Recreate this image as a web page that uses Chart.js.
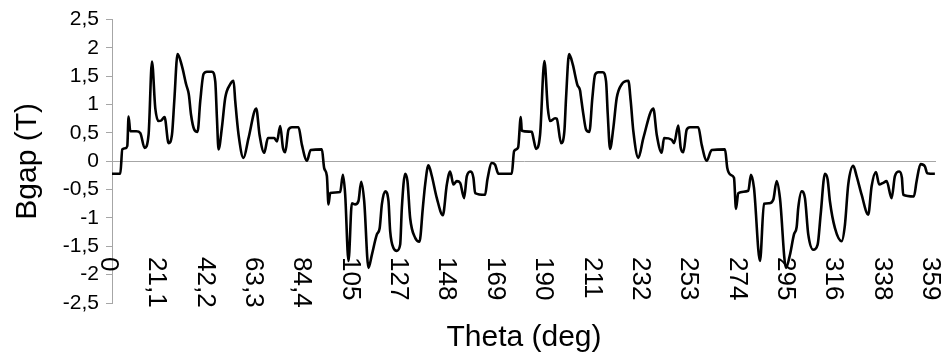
<!DOCTYPE html>
<html>
<head>
<meta charset="utf-8">
<script src="https://cdn.jsdelivr.net/npm/chart.js@4.4.1/dist/chart.umd.min.js"></script>
<style>
  html, body { margin: 0; padding: 0; background: #fff; }
  #wrap { width: 942px; height: 360px; }
</style>
</head>
<body>
<div id="wrap"><canvas id="myChart" width="942" height="360"></canvas></div>
<script>
// air gap flux density around the rotor
const thetaDeg = [
  0, 3.62, 4.49, 5.8, 6.67, 7.23, 7.98, 10.59, 12.33, 14.21, 15.95, 17.43, 18.87, 20.31, 21.49, 22.92,
  24.67, 26.15, 27.15, 28.59, 30.51, 32.38, 33.25, 33.6, 34.43, 35.87, 37.31, 38.48, 39.92, 41.4, 43.58,
  45.02, 45.76, 46.46, 47.94, 49.38, 51.56, 53.0, 53.74, 55.18, 57.35, 59.53, 62.89, 64.33, 66.38, 67.99,
  70.73, 71.91, 73.35, 74.53, 75.53, 76.97, 78.45, 81.33, 82.81, 84.99, 86.64, 91.52, 92.52, 93.7, 94.4,
  95.14, 99.5, 100.68, 101.68, 103.12, 104.6, 106.03, 107.47, 108.65, 109.96, 111.83, 113.31, 115.49,
  116.71, 117.67, 119.11, 120.55, 121.29, 122.73, 124.21, 125.65, 126.39, 127.83, 128.83, 130.0, 132.18,
  134.06, 135.54, 136.54, 137.98, 139.46, 141.64, 144.26, 146.0, 147.44, 148.88, 150.36, 151.8, 153.54,
  154.72, 156.46, 157.59, 158.34, 162.69, 163.7, 165.61, 167.05, 168.49, 174.33,
  175.33, 177.07, 178.25, 178.69, 183.05, 183.74, 184.92, 186.66, 188.54, 190.02, 191.02, 193.2, 193.94,
  195.81, 197.25, 197.99, 199.3, 200.91, 202.92, 204.1, 204.44, 205.53, 206.71, 208.15, 209.46, 210.64,
  212.07, 213.99, 215.43, 216.17, 217.17, 218.61, 220.09, 222.27, 225.15, 226.19, 227.33, 229.51, 231.69,
  236.04, 237.53, 239.7, 240.71, 244.06, 245.07, 246.94, 247.98, 249.12, 250.6, 252.04, 255.66, 257.14,
  259.32, 261.49, 267.29, 268.29, 269.78, 271.21, 272.09, 273.09, 277.45, 278.62, 279.93, 282.55, 284.29,
  286.6, 288.34, 289.83, 291.26, 293.88, 295.62, 297.37, 298.54, 299.24, 300.72, 302.16, 303.6, 305.78,
  307.69, 309.0, 310.88, 312.05, 313.06, 315.24, 318.15, 319.59, 321.03, 323.21, 324.69, 326.87, 329.75,
  331.23, 333.1, 334.54, 336.29, 337.77, 339.95, 341.38, 343.26, 344.43, 345.0, 349.66, 350.84, 352.58,
  354.46, 355.46, 358.81
];
const bgapT = [
  -0.22, -0.22, 0.21, 0.23, 0.27, 0.79, 0.53, 0.53, 0.5, 0.235, 0.47, 1.76, 0.94, 0.71, 0.72, 0.78,
  0.32, 0.47, 1.06, 1.89, 1.68, 1.35, 1.23, 1.15, 0.83, 0.56, 0.52, 1.06, 1.54, 1.58, 1.58,
  1.41, 0.76, 0.21, 0.6, 1.12, 1.36, 1.42, 1.06, 0.47, 0.06, 0.41, 0.93, 0.47, 0.15, 0.41,
  0.41, 0.35, 0.62, 0.24, 0.16, 0.56, 0.6, 0.6, 0.29, 0.01, 0.2, 0.21, -0.12, -0.26, -0.76,
  -0.56, -0.54, -0.24, -0.59, -1.76, -0.74, -0.76, -0.7, -0.36, -0.7, -1.88, -1.65, -1.29,
  -1.18, -0.76, -0.53, -0.7, -1.23, -1.53, -1.58, -1.47, -0.82, -0.22, -0.35, -1.0, -1.35,
  -1.42, -0.82, -0.41, -0.07, -0.26, -0.65, -0.95, -0.41, -0.18, -0.41, -0.35, -0.38, -0.65,
  -0.26, -0.18, -0.29, -0.56, -0.59, -0.32, -0.03, -0.06, -0.22, -0.22,
  0.18, 0.24, 0.78, 0.54, 0.52, 0.41, 0.22, 0.47, 1.77, 0.94, 0.71, 0.76, 0.75,
  0.32, 0.53, 1.12, 1.89, 1.71, 1.35, 1.25, 1.15, 0.83, 0.56, 0.52, 1.12, 1.53,
  1.57, 1.57, 1.41, 0.83, 0.22, 0.59, 1.12, 1.36, 1.42, 1.06, 0.53, 0.06, 0.41,
  0.93, 0.47, 0.15, 0.41, 0.38, 0.32, 0.63, 0.24, 0.16, 0.56, 0.6, 0.6, 0.29,
  0.01, 0.2, 0.21, -0.12, -0.24, -0.29, -0.84, -0.56, -0.52, -0.24, -0.47, -1.76, -0.75,
  -0.74, -0.68, -0.35, -0.65, -1.88, -1.65, -1.29, -1.16, -0.82, -0.53, -0.65, -1.29, -1.56,
  -1.47, -0.94, -0.22, -0.32, -0.71, -1.18, -1.41, -1.12, -0.41, -0.08, -0.26, -0.59, -0.94,
  -0.44, -0.19, -0.41, -0.38, -0.35, -0.65, -0.26, -0.18, -0.29, -0.59, -0.62, -0.35, -0.05,
  -0.09, -0.21, -0.22
];

// one label every 30 samples (360/512 deg per sample)
const xTickValues = [0, 21.09, 42.19, 63.28, 84.38, 105.47, 126.56, 147.66, 168.75,
  189.84, 210.94, 232.03, 253.13, 274.22, 295.31, 316.41, 337.5, 358.59];
const xTickLabels = ['0', '21,1', '42,2', '63,3', '84,4', '105', '127', '148', '169',
  '190', '211', '232', '253', '274', '295', '316', '338', '359'];
const yTickLabels = ['-2,5', '-2', '-1,5', '-1', '-0,5', '0', '0,5', '1', '1,5', '2', '2,5'];

const FONT = '"Liberation Sans", Arial, sans-serif';
const AXIS_GREY = '#a6a6a6';

// x labels read top-to-bottom, so draw them ourselves
const verticalXLabels = {
  id: 'verticalXLabels',
  beforeDatasetsDraw(chart) {
    const xs = chart.scales.x;
    const ctx = chart.ctx;
    const top = chart.chartArea.bottom - 46;
    ctx.save();
    ctx.font = '26px ' + FONT;
    ctx.fillStyle = '#000';
    ctx.textAlign = 'left';
    ctx.textBaseline = 'middle';
    xs.ticks.forEach((t, i) => {
      ctx.save();
      ctx.translate(xs.getPixelForValue(t.value) - 4, top);
      ctx.rotate(Math.PI / 2);
      ctx.fillText(xTickLabels[i], 0, 0);
      ctx.restore();
    });
    ctx.restore();
  }
};

const points = thetaDeg.map((t, i) => ({ x: t, y: bgapT[i] }));

new Chart(document.getElementById('myChart'), {
  type: 'line',
  data: {
    datasets: [{
      data: points,
      borderColor: '#000',
      borderWidth: 2.6,
      pointRadius: 0,
      cubicInterpolationMode: 'monotone',
      fill: false
    }]
  },
  options: {
    responsive: false,
    animation: false,
    layout: { padding: { top: 18, right: 6, bottom: 0, left: 0 } },
    plugins: {
      legend: { display: false },
      tooltip: { enabled: false }
    },
    scales: {
      x: {
        type: 'linear',
        min: 0,
        max: 359.3,
        afterBuildTicks: s => { s.ticks = xTickValues.map(v => ({ value: v })); },
        afterFit: s => { s.height = 57; },
        ticks: { display: false },
        grid: { display: false },
        border: { display: false },
        title: {
          display: true,
          text: 'Theta (deg)',
          color: '#000',
          font: { family: FONT, size: 30 },
          padding: { top: 0, bottom: 4 }
        }
      },
      y: {
        min: -2.5,
        max: 2.5,
        afterFit: s => { s.width = 112; },
        ticks: {
          stepSize: 0.5,
          color: '#000',
          padding: 7,
          font: { family: FONT, size: 21 },
          callback: (v, i) => yTickLabels[i]
        },
        grid: {
          color: c => (c.tick && c.tick.value === 0 ? AXIS_GREY : 'transparent'),
          tickColor: AXIS_GREY,
          tickLength: 6,
          lineWidth: 1
        },
        border: { color: AXIS_GREY, width: 1 },
        title: {
          display: true,
          text: 'Bgap (T)',
          color: '#000',
          font: { family: FONT, size: 30 },
          padding: { top: 10, bottom: 0 }
        }
      }
    }
  },
  plugins: [verticalXLabels]
});
</script>
</body>
</html>
